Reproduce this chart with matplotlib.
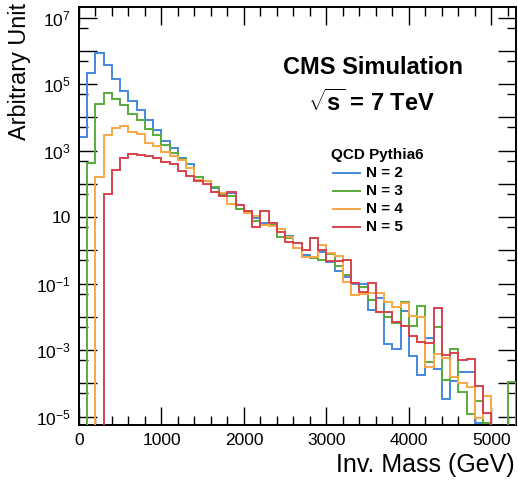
import numpy as np
import matplotlib
matplotlib.use("Agg")
import matplotlib.pyplot as plt
from matplotlib.ticker import FixedLocator, FuncFormatter, MultipleLocator
from matplotlib.lines import Line2D

plt.rcParams["font.family"] = ["Liberation Sans", "DejaVu Sans"]
plt.rcParams["mathtext.fontset"] = "custom"
plt.rcParams["mathtext.rm"] = "Liberation Sans"
plt.rcParams["mathtext.bf"] = "Liberation Sans:bold"
plt.rcParams["mathtext.it"] = "Liberation Sans:italic"

# Invariant-mass binning (GeV)
bin_width = 100
mass_max = 5300
edges = np.arange(0, mass_max + bin_width, bin_width)

# Event counts per 100 GeV bin (arbitrary units), 0 = empty bin
n2 = [2.5e3, 2.2e5, 8.7e5, 3.7e5, 1.4e5, 6.2e4, 3.1e4, 1.7e4, 8.3e3, 4.2e3,
      1.95e3, 1.2e3, 590, 400, 160, 120, 74, 47, 52, 23,
      13, 9.3, 6.5, 6.0, 4.3, 2.8, 1.15, 0.71, 0.65, 0.89,
      0.45, 0.24, 0.16, 0.10, 0.10, 0.016, 0.036, 1.5e-3, 1.1e-3, 0.015,
      6.8e-4, 1.8e-4, 2.3e-3, 2.7e-4, 3.5e-5, 1.15e-4, 2.2e-4, 2.2e-4, 6.3e-6, 0,
      0, 0, 0]
n3 = [0, 420, 2.6e4, 5.5e4, 3.7e4, 2.3e4, 1.3e4, 8.3e3, 4.4e3, 3.0e3,
      1.5e3, 870, 550, 300, 160, 126, 79, 47, 42, 18,
      15, 7.9, 6.0, 5.9, 2.5, 2.3, 1.15, 0.65, 0.58, 0.51,
      0.76, 0.35, 0.18, 0.107, 0.079, 0.032, 0.0145, 0.010, 0.0065, 0.028,
      0.0054, 0.022, 4.3e-4, 5.1e-3, 1.3e-4, 1.07e-3, 5.5e-5, 1.2e-5, 2.9e-5, 6.3e-6,
      0, 0, 1.07e-4]
n4 = [0, 0, 160, 3.0e3, 4.9e3, 5.5e3, 3.7e3, 3.1e3, 1.7e3, 1.4e3,
      930, 690, 520, 300, 130, 120, 59, 52, 25, 23,
      13, 11, 6.0, 5.4, 4.3, 2.5, 1.15, 0.65, 0.65, 1.5,
      0.81, 0.69, 0.11, 0.046, 0.050, 0.051, 0.051, 0.029, 0.020, 0.027,
      0.011, 0.010, 3.2e-4, 7.9e-4, 5.8e-4, 1.6e-4, 1.0e-4, 7.9e-5, 8.9e-6, 4.1e-5,
      0, 0, 0]
n5 = [0, 0, 0, 50, 260, 590, 780, 720, 690, 590,
      470, 400, 250, 170, 120, 100, 59, 42, 56, 23,
      15, 5.0, 15.5, 6.5, 3.6, 1.8, 1.7, 1.0, 2.3, 1.0,
      0.49, 0.48, 0.51, 0.107, 0.058, 0.107, 0.0145, 0.0145, 0.0072, 0.0054,
      0.0026, 0.0018, 0.0016, 0.018, 7.2e-4, 8.1e-4, 4.9e-4, 5.5e-4, 8.5e-5, 1.3e-5,
      0, 0, 0]

series_labels = ["N = 2", "N = 3", "N = 4", "N = 5"]
series_colors = ["#4387dc", "#5aab3c", "#f8a845", "#d8424c"]

W, H = 518, 484
fig = plt.figure(figsize=(W / 100, H / 100), dpi=100)
ax = fig.add_axes([79 / W, 1 - 425 / H, (516 - 79) / W, (425 - 7) / H])

ymin, ymax = 10 ** -5.25, 10 ** 7.32
floor = 1e-8  # empty bins are drawn along the lower frame

for vals, col, z in zip([n2, n3, n4, n5], series_colors, [2, 3, 4, 5]):
    v = np.asarray(vals, dtype=float)
    v = np.where(v > 0, v, floor)
    ax.stairs(v, edges, baseline=floor, color=col, lw=1.4, zorder=z)

ax.set_yscale("log")
ax.set_xlim(0, mass_max)
ax.set_ylim(ymin, ymax)

# x ticks
ax.xaxis.set_major_locator(MultipleLocator(1000))
ax.xaxis.set_minor_locator(MultipleLocator(200))

# y ticks: every decade, labels on odd powers
decades = np.arange(-5, 8)
ax.yaxis.set_major_locator(FixedLocator(10.0 ** decades))
ax.yaxis.set_minor_locator(FixedLocator(5 * 10.0 ** np.arange(-6, 8)))


def ylab(v, pos):
    e = int(round(np.log10(v)))
    if e % 2 == 0:
        return ""
    if e == 1:
        return "10"
    return r"$10^{%d}$" % e


ax.yaxis.set_major_formatter(FuncFormatter(ylab))
ax.yaxis.set_minor_formatter(FuncFormatter(lambda v, p: ""))

ax.tick_params(which="both", direction="in", top=True, right=True,
               width=1.0, colors="black")
ax.tick_params(which="major", length=13, labelsize=12.5, pad=6)
ax.tick_params(which="minor", length=6.5)
for sp in ax.spines.values():
    sp.set_linewidth(1.4)

# axis titles
fig.text(515 / W, 1 - 465 / H, "Inv. Mass (GeV)", ha="right", va="center",
         fontsize=18)
fig.text(20 / W, 1 - 3 / H, "Arbitrary Unit", ha="center", va="top",
         rotation=90, fontsize=16.8)

# headline
fig.text(373 / W, 1 - 67 / H, "CMS Simulation", ha="center", va="center",
         fontsize=17, fontweight="bold")
fig.text(371 / W, 1 - 103 / H, r"$\sqrt{\mathbf{s}}$ = 7 TeV",
         ha="center", va="center", fontsize=17, fontweight="bold")

# legend
fig.text(377 / W, 1 - 155 / H, "QCD Pythia6", ha="center", va="center",
         fontsize=11, fontweight="bold")
for i, (lab, col) in enumerate(zip(series_labels, series_colors)):
    yc = 1 - (173.3 + 18 * i) / H
    fig.add_artist(Line2D([333 / W, 360 / W], [yc, yc], color=col, lw=1.4))
    fig.text(366 / W, yc, lab, ha="left", va="center", fontsize=11,
             fontweight="bold")

fig.savefig("out.png", dpi=100)
